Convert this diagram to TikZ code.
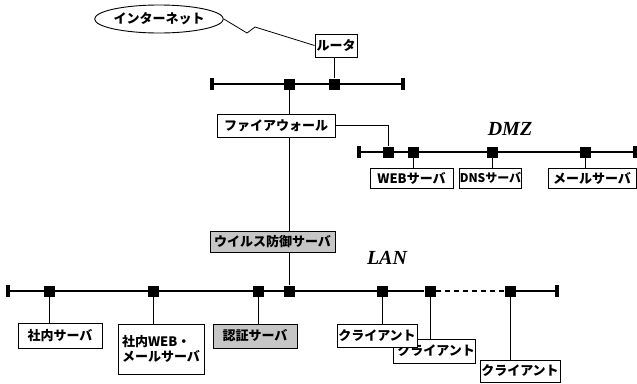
\documentclass[tikz,border=0pt]{standalone}
\usepackage{fontspec}
\usetikzlibrary{shapes.geometric}
\newfontfamily\jp{Noto Sans CJK JP}
\newfontfamily\lab{Liberation Serif}
\begin{document}
\begin{tikzpicture}[x=1pt,y=-1pt,
  box/.style={draw,line width=0.9pt,fill=white,inner sep=0pt,font=\jp\bfseries\fontsize{13}{15}\selectfont},
  gbox/.style={box,fill=gray!45},
  sq/.style={fill=black,minimum size=11pt,inner sep=0pt},
  endcap/.style={fill=black,minimum width=4pt,minimum height=12pt,inner sep=0pt},
  bus/.style={line width=1.8pt},
  wire/.style={line width=0.8pt},
  netlabel/.style={font=\lab\bfseries\itshape\fontsize{20}{22}\selectfont}]
\useasboundingbox (0,0) rectangle (637,383);
% Internet and router
\node[draw,ellipse,line width=0.9pt,minimum width=118pt,minimum height=28pt,inner sep=0pt,font=\jp\bfseries\fontsize{13}{15}\selectfont] (inet) at (159,19) {インターネット};
\node[box,minimum width=42pt,minimum height=23pt] (router) at (336,45.5) {ルータ};
\coordinate (z1) at (247,33);
\coordinate (z2) at (255,27);
\draw[wire] (inet.east) -- (z1) -- (z2) -- (router.west);
% top bus
\node[endcap] (tl) at (212,84) {};
\node[endcap] (tr) at (403,84) {};
\node[sq] (t1) at (289,84) {};
\node[sq] (t2) at (334,84) {};
\draw[bus] (tl) -- (tr);
\draw[wire] (t2) -- (t2 |- router.south);
% firewall
\node[box,minimum width=118pt,minimum height=23pt] (fw) at (276,125.5) {ファイアウォール};
\draw[wire] (t1) -- (t1 |- fw.north);
% DMZ bus
\node[endcap] (dl) at (359,152) {};
\node[endcap] (dr) at (635,152) {};
\node[sq] (d1) at (388,152) {};
\node[sq] (d2) at (413,152) {};
\node[sq] (d3) at (492,152) {};
\node[sq] (d4) at (585,152) {};
\draw[bus] (dl) -- (dr);
\draw[wire] (fw.east) -| (d1);
\node[netlabel] (dmz) at (510,129) {DMZ};
\node[box,minimum width=83pt,minimum height=20pt] (web) at (411.5,178) {WEBサーバ};
\node[box,minimum width=60pt,minimum height=20pt,font=\jp\bfseries\fontsize{12}{14}\selectfont] (dns) at (490.5,178) {DNSサーバ};
\node[box,minimum width=88pt,minimum height=20pt] (mail) at (592,178) {メールサーバ};
\draw[wire] (d2) -- (d2 |- web.north);
\draw[wire] (d3) -- (d3 |- dns.north);
\draw[wire] (d4) -- (d4 |- mail.north);
% virus server
\node[gbox,minimum width=125pt,minimum height=21pt] (virus) at (272.5,241.5) {ウイルス防御サーバ};
\draw[wire] (fw.south -| t1) -- (virus.north -| t1);
% LAN bus
\node[endcap] (ll) at (8,291) {};
\node[endcap] (lr) at (557,291) {};
\node[sq] (l1) at (49,291) {};
\node[sq] (l2) at (153,291) {};
\node[sq] (l3) at (258,291) {};
\node[sq] (l4) at (289,291) {};
\node[sq] (l5) at (382,291) {};
\node[sq] (l6) at (430,291) {};
\node[sq] (l7) at (510,291) {};
\draw[bus] (ll) -- (l6);
\draw[bus,dash pattern=on 5pt off 4pt] (l6) -- (l7);
\draw[bus] (l7) -- (lr);
\draw[wire] (virus.south -| l4) -- (l4);
\node[netlabel] (lan) at (387,258) {LAN};
% LAN hosts
\node[box,minimum width=84pt,minimum height=25pt] (s1) at (60,335.5) {社内サーバ};
\node[box,minimum width=86pt,minimum height=50pt,align=left] (s2) at (161,349) {社内WEB・\\メールサーバ};
\node[gbox,minimum width=84pt,minimum height=24pt] (auth) at (255,336) {認証サーバ};
\node[box,minimum width=82pt,minimum height=24pt] (c2) at (434,351) {\hspace*{4pt}クライアント};
\node[box,minimum width=80pt,minimum height=23pt] (c1) at (377,335.5) {クライアント};
\node[box,minimum width=80pt,minimum height=22pt] (c3) at (520,371) {クライアント};
\draw[wire] (l1) -- (l1 |- s1.north);
\draw[wire] (l2) -- (l2 |- s2.north);
\draw[wire] (l3) -- (l3 |- auth.north);
\draw[wire] (l5) -- (l5 |- c1.north);
\draw[wire] (l6) -- (l6 |- c2.north);
\draw[wire] (l7) -- (l7 |- c3.north);
\end{tikzpicture}
\end{document}
